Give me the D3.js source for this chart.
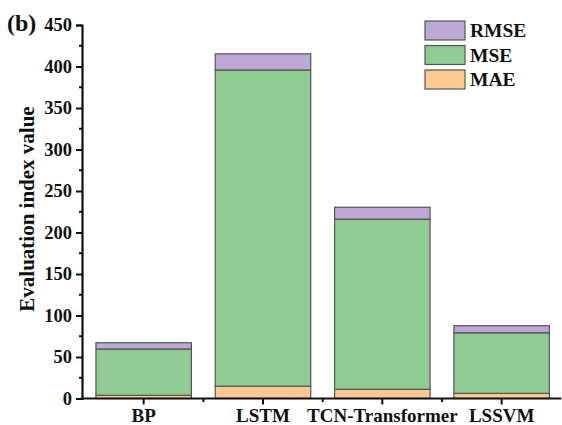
<!DOCTYPE html>
<html>
<head>
<meta charset="utf-8">
<script src="https://cdn.jsdelivr.net/npm/d3@7"></script>
<style>
  html, body { margin: 0; padding: 0; background: #fff; }
  svg text { font-family: "Liberation Serif", "Times New Roman", serif; font-weight: bold; fill: #111; }
</style>
</head>
<body>
<svg id="chart" width="562" height="425"></svg>
<script>
// Model names along the x axis
const models = ["BP", "LSTM", "TCN-Transformer", "LSSVM"];
// Evaluation indices per model (stacked bottom to top: MAE, MSE, RMSE)
const maeValues  = [3.9, 14.8, 11.1, 6.2];
const mseValues  = [55.8, 381.0, 205.0, 73.0];
const rmseValues = [7.5, 19.5, 14.3, 8.5];
const yTicks = [0, 50, 100, 150, 200, 250, 300, 350, 400, 450];

const seriesKeys = ["MAE", "MSE", "RMSE"];
const colors = { MAE: "#fdc892", MSE: "#90cb94", RMSE: "#bda9d3" };

const rows = models.map((m, i) => ({ model: m, MAE: maeValues[i], MSE: mseValues[i], RMSE: rmseValues[i] }));
const stacked = d3.stack().keys(seriesKeys)(rows);

const svg = d3.select("#chart");
const plotLeft = 82, plotRight = 561.3, plotTop = 25, plotBottom = 398.5;

const x = d3.scaleBand().domain(models).range([84, plotRight]).paddingInner(0.2).paddingOuter(0.1);
const y = d3.scaleLinear().domain([0, 450]).range([plotBottom, plotTop]);

// Stacked bars
svg.append("g").selectAll("g").data(stacked).join("g")
  .attr("fill", d => colors[d.key])
  .selectAll("rect").data(d => d).join("rect")
  .attr("x", d => x(d.data.model))
  .attr("width", x.bandwidth())
  .attr("y", d => y(d[1]))
  .attr("height", d => y(d[0]) - y(d[1]))
  .attr("stroke", "#555")
  .attr("stroke-width", 1.2);

// Y axis with minor ticks
const yAxisG = svg.append("g").attr("transform", `translate(${plotLeft},0)`);
yAxisG.call(d3.axisLeft(y).tickValues(yTicks).tickSize(6).tickPadding(4))
  .call(g => g.select(".domain").attr("stroke-width", 2.2).attr("stroke", "#111"))
  .call(g => g.selectAll(".tick line").attr("stroke-width", 2).attr("stroke", "#111"))
  .call(g => g.selectAll(".tick text").attr("font-size", 18.5));
const minorY = d3.range(25, 450, 50);
yAxisG.selectAll(".minor").data(minorY).join("line")
  .attr("x1", -3).attr("x2", 0)
  .attr("y1", d => y(d)).attr("y2", d => y(d))
  .attr("stroke", "#111").attr("stroke-width", 2);

// X axis with ticks at band centres and minor ticks between bands
const xAxisG = svg.append("g").attr("transform", `translate(0,${plotBottom})`);
xAxisG.append("line").attr("x1", plotLeft - 1).attr("x2", plotRight).attr("stroke", "#111").attr("stroke-width", 2.2);
xAxisG.selectAll(".major").data(models).join("line")
  .attr("x1", d => x(d) + x.bandwidth() / 2).attr("x2", d => x(d) + x.bandwidth() / 2)
  .attr("y1", 0).attr("y2", 6).attr("stroke", "#111").attr("stroke-width", 2);
const step = x.step();
xAxisG.selectAll(".minorx").data(models.slice(0, 3)).join("line")
  .attr("x1", d => x(d) + x.bandwidth() / 2 + step / 2).attr("x2", d => x(d) + x.bandwidth() / 2 + step / 2)
  .attr("y1", 0).attr("y2", 3.5).attr("stroke", "#111").attr("stroke-width", 2);
xAxisG.selectAll("text").data(models).join("text")
  .attr("x", d => x(d) + x.bandwidth() / 2)
  .attr("y", 23.5)
  .attr("text-anchor", "middle")
  .attr("font-size", 19)
  .text(d => d);

// Axis title
svg.append("text")
  .attr("transform", "translate(34,209) rotate(-90)")
  .attr("text-anchor", "middle")
  .attr("font-size", 21)
  .text("Evaluation index value");

// Panel label
svg.append("text").attr("x", 7).attr("y", 31).attr("font-size", 24).text("(b)");

// Legend (top entry first)
const legendKeys = ["RMSE", "MSE", "MAE"];
const legend = svg.append("g").attr("transform", "translate(425,21)");
legend.selectAll("rect").data(legendKeys).join("rect")
  .attr("x", 0).attr("y", (d, i) => i * 24.5)
  .attr("width", 40).attr("height", 19)
  .attr("fill", d => colors[d]).attr("stroke", "#555").attr("stroke-width", 1.2);
legend.selectAll("text").data(legendKeys).join("text")
  .attr("x", 45).attr("y", (d, i) => i * 24.5 + 16)
  .attr("font-size", 19.5)
  .text(d => d);
</script>
</body>
</html>
